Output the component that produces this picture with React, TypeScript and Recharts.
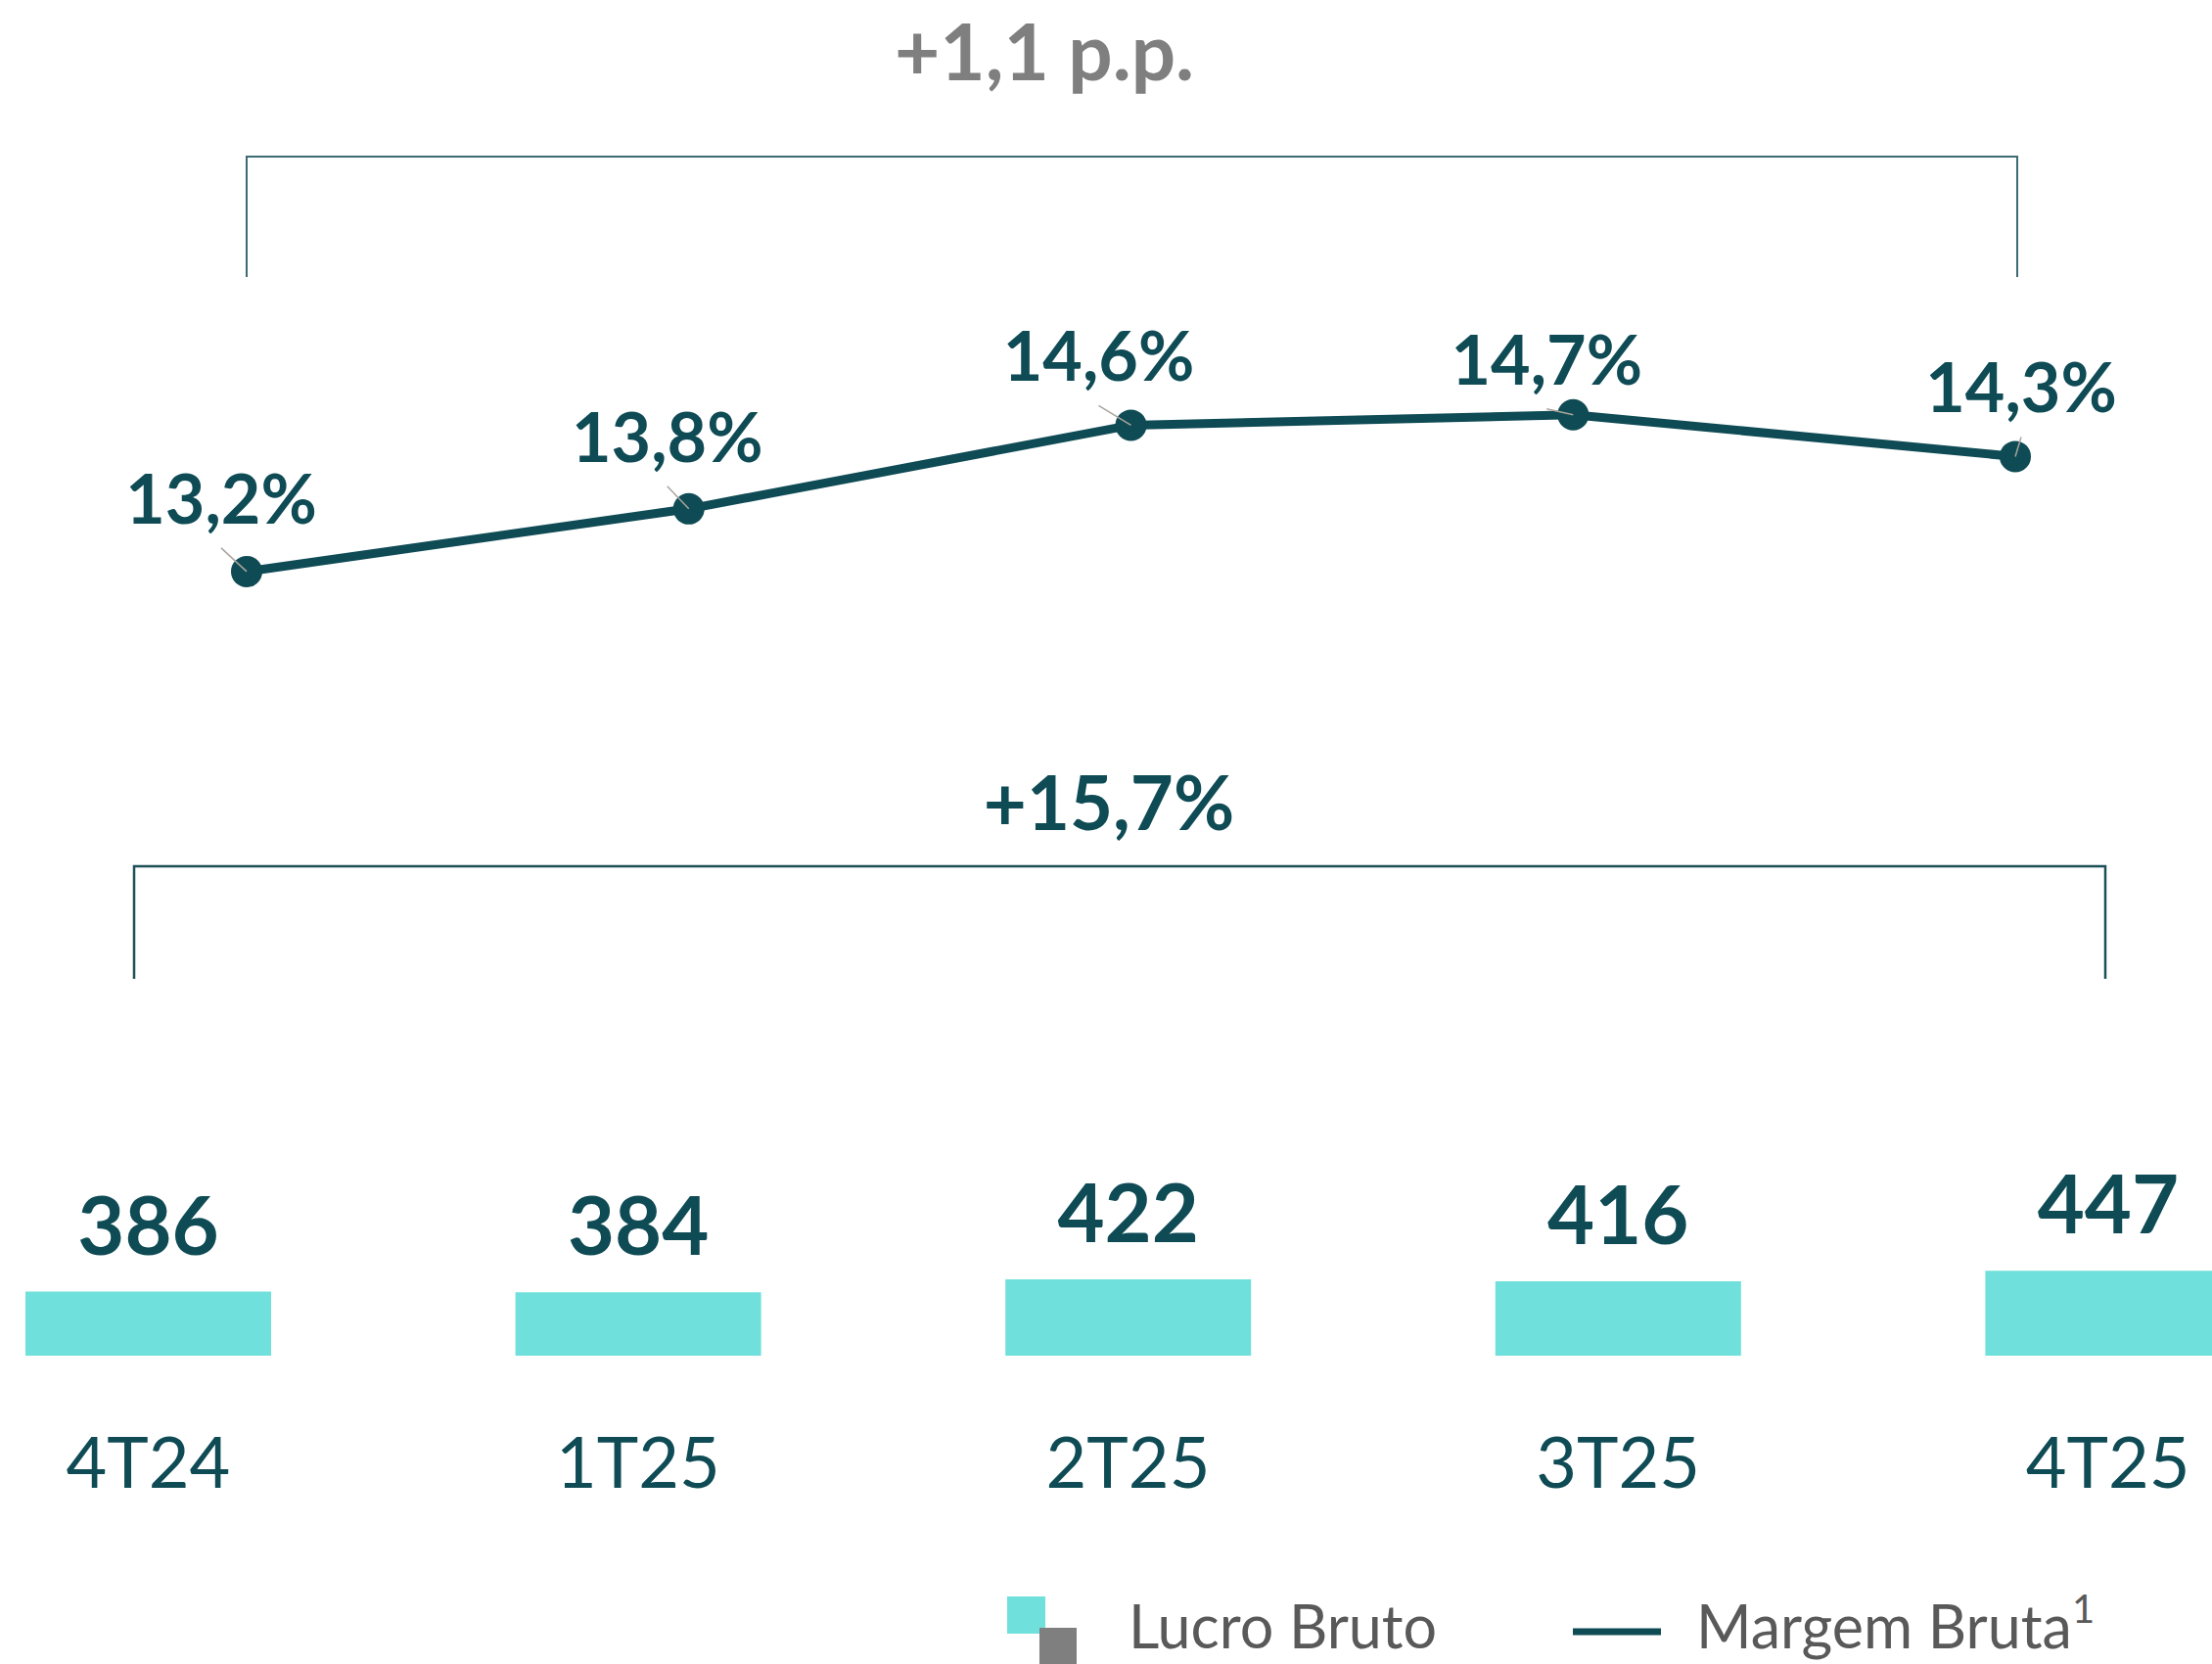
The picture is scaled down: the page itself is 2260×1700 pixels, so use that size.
import React from "react";
import { LineChart, Line, BarChart, Bar, XAxis, YAxis, LabelList } from "recharts";

const QUARTERS = ["4T24", "1T25", "2T25", "3T25", "4T25"];
const LUCRO_BRUTO = [386, 384, 422, 416, 447];
const MARGEM_BRUTA = [13.2, 13.8, 14.6, 14.7, 14.3];
const VAR_MARGEM = "+1,1 p.p.";
const VAR_LUCRO = "+15,7%";
const LEGEND_BAR = "Lucro Bruto";
const LEGEND_LINE = "Margem Bruta";

// label nudges from each dot to its label (centre x, baseline y), like the excel file
const LABEL_NUDGE = [
  [-26, -49],
  [-22, -48],
  [-33, -45],
  [-27, -31],
  [6, -45],
];

const TEAL = "#0f4b55";
const CYAN = "#6fe0db";
const GRAY = "#7f7f7f";
const FONT = "Lato, 'Noto Sans', sans-serif";

const lineData = QUARTERS.map((q, i) => ({ q, margem: MARGEM_BRUTA[i] }));
const barData = QUARTERS.map((q, i) => ({ q, lucro: LUCRO_BRUTO[i] }));

const fmtPct = (v: number) => v.toFixed(1).replace(".", ",") + "%";

const MarginLabel = (props: any) => {
  const { x, y, value, index } = props;
  const [dx, dy] = LABEL_NUDGE[index] || [0, -45];
  const lx = x + dx;
  const ly = y + dy;
  const leadY = ly + 25;
  return (
    <g>
      {leadY < y - 4 && (
        <line x1={lx} y1={leadY} x2={x} y2={y} stroke="#aaa49c" strokeWidth={1.5} />
      )}
      <text
        x={lx}
        y={ly}
        textAnchor="middle"
        fontFamily={FONT}
        fontWeight={700}
        fontSize={70}
        fill={TEAL}
      >
        {fmtPct(value)}
      </text>
    </g>
  );
};

export default function App() {
  return (
    <div
      style={{
        position: "absolute",
        top: 0,
        left: 0,
        width: 2260,
        height: 1700,
        overflow: "hidden",
        background: "#fff",
        fontFamily: FONT,
      }}
    >
      <div style={{ position: "absolute", top: 0, left: 0 }}>
        <LineChart
          width={2260}
          height={712}
          data={lineData}
          margin={{ top: 18, right: 0, bottom: 0, left: 0 }}
        >
          <XAxis dataKey="q" hide scale="point" padding={{ left: 252, right: 201 }} />
          <YAxis hide domain={[12, 18.5]} />
          <Line
            dataKey="margem"
            stroke={TEAL}
            strokeWidth={9}
            dot={{ r: 16, fill: TEAL, stroke: TEAL, strokeWidth: 0 }}
            activeDot={false}
            isAnimationActive={false}
            label={MarginLabel}
          />
        </LineChart>
      </div>

      <div style={{ position: "absolute", top: 1100, left: -99 }}>
        <BarChart
          width={2503}
          height={600}
          data={barData}
          margin={{ top: 74, right: 0, bottom: 175, left: 0 }}
        >
          <XAxis
            dataKey="q"
            axisLine={false}
            tickLine={false}
            tickSize={0}
            tickMargin={84}
            height={140}
            interval={0}
            tick={{ fontSize: 72, fill: TEAL, fontFamily: FONT }}
          />
          <YAxis hide domain={[200, 800]} />
          <Bar dataKey="lucro" fill={CYAN} barSize={251} isAnimationActive={false}>
            <LabelList
              dataKey="lucro"
              position="top"
              offset={38}
              fill={TEAL}
              fontSize={83}
              fontWeight={700}
              fontFamily={FONT}
            />
          </Bar>
        </BarChart>
      </div>

      <svg
        width={2260}
        height={1700}
        style={{ position: "absolute", top: 0, left: 0, pointerEvents: "none" }}
      >
        <path d="M252 283 V160 H2061 V283" fill="none" stroke="#3d6b74" strokeWidth={2} />
        <text x={1067} y={82} textAnchor="middle" fontFamily={FONT} fontWeight={700} fontSize={80} fill={GRAY}>
          {VAR_MARGEM}
        </text>
        <path d="M137 1000 V885 H2151 V1000" fill="none" stroke="#1d4f58" strokeWidth={2.5} />
        <text x={1133} y={848} textAnchor="middle" fontFamily={FONT} fontWeight={700} fontSize={76} fill={TEAL}>
          {VAR_LUCRO}
        </text>

        <rect x={1029} y={1631} width={39} height={38} fill={CYAN} />
        <rect x={1062} y={1663} width={38} height={37} fill={GRAY} />
        <text x={1153} y={1684} fontFamily={FONT} fontSize={61} fill="#595959">
          {LEGEND_BAR}
        </text>
        <line x1={1607} y1={1667} x2={1697} y2={1667} stroke={TEAL} strokeWidth={7} />
        <text x={1733} y={1684} fontFamily={FONT} fontSize={61} fill="#595959">
          {LEGEND_LINE}
          <tspan fontSize={40} dy={-26}>1</tspan>
        </text>
      </svg>
    </div>
  );
}
